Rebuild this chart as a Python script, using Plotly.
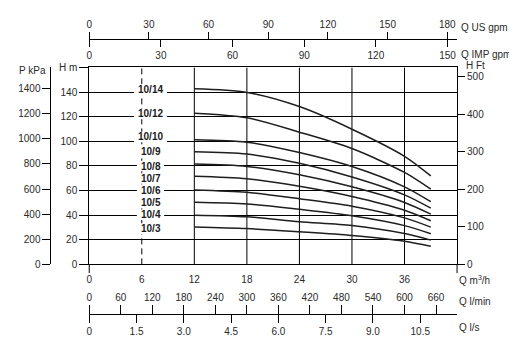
import plotly.graph_objects as go

# page offset of the figure inside the browser window (default body margin)
OFF = 8
W, H = 517 - OFF, 361 - OFF

# ---------------- data ----------------
models = ["10/14", "10/12", "10/10", "10/9", "10/8", "10/7", "10/6", "10/5", "10/4", "10/3"]
flow = [12, 18, 24, 30, 36, 39]  # m3/h
head_10_14 = [142.6, 139.7, 128.2, 109.8, 87.8, 71.9]
head_10_12 = [122.8, 119.1, 107.4, 94.1, 74.7, 61.1]
head_10_10 = [101.3, 99.3, 90.9, 79.5, 63.0, 50.9]
head_10_9 = [91.5, 89.6, 82.1, 71.0, 56.5, 45.7]
head_10_8 = [81.5, 79.6, 72.8, 63.0, 50.3, 40.8]
head_10_7 = [71.6, 69.6, 63.5, 55.2, 44.0, 35.5]
head_10_6 = [60.4, 58.5, 53.3, 47.3, 37.8, 30.3]
head_10_5 = [50.5, 49.1, 44.7, 39.5, 31.5, 24.9]
head_10_4 = [40.0, 38.7, 34.7, 31.5, 25.0, 19.7]
head_10_3 = [30.4, 29.1, 26.5, 23.5, 18.8, 14.7]
heads = [head_10_14, head_10_12, head_10_10, head_10_9, head_10_8,
         head_10_7, head_10_6, head_10_5, head_10_4, head_10_3]
label_heads = [142.0, 122.2, 103.5, 91.4, 79.9, 69.8, 59.8, 50.2, 40.3, 29.1]
label_flow = 7.0

Q_MAX = 42
H_MAX = 160
q_ticks = [0, 6, 12, 18, 24, 30, 36]
q_grid = [6, 12, 18, 24, 30, 36]
h_ticks = [0, 20, 40, 60, 80, 100, 120, 140, 160]
h_text = ["0", "20", "40", "60", "80", "100", "120", "140", "H m"]
hft_ticks = [0, 100, 200, 300, 400, 500]
p_ticks = [0, 200, 400, 600, 800, 1000, 1200, 1400]
usgpm_ticks = [0, 30, 60, 90, 120, 150, 180]
impgpm_ticks = [0, 30, 60, 90, 120, 150]
lmin_ticks = [0, 60, 120, 180, 240, 300, 360, 420, 480, 540, 600, 660]
ls_ticks = [0, 1.5, 3.0, 4.5, 6.0, 7.5, 9.0, 10.5]
ls_text = ["0", "1.5", "3.0", "4.5", "6.0", "7.5", "9.0", "10.5"]

# unit conversions
M_PER_FT = 0.3048
KPA_PER_M = 9.80665
M3H_PER_USGPM = 0.2271247
M3H_PER_IMPGPM = 0.2727655

# ---------------- layout geometry (window pixels) ----------------
PL, PR, PT, PB = 86.7, 456.7, 63.3, 267.2
TOP_AXIS_Y = 34.0
BOT_AXIS_Y = 318.3
P_AXIS_X = 47.7
PX_PER_Q = (PR - PL) / Q_MAX
PX_PER_H = (PB - PT) / H_MAX

def fx(p):
    return (p - OFF) / W

def fy(p):
    return 1 - (p - OFF) / H

INK = "#1e1e1e"
FONT = "Liberation Sans, Arial, sans-serif"
tfont = dict(family=FONT, size=10, color="#2a2a2a")

fig = go.Figure()

for name, h in zip(models, heads):
    fig.add_trace(go.Scatter(x=flow, y=h, mode="lines", name=name,
                             line=dict(color=INK, width=1.5, shape="spline", smoothing=0.8),
                             hoverinfo="skip", showlegend=False))

# dummy traces to instantiate secondary axes
for xa, ya in [("x2", "y"), ("x3", "y"), ("x4", "y"), ("x5", "y"), ("x", "y2"), ("x", "y3")]:
    fig.add_trace(go.Scatter(x=[None], y=[None], xaxis=xa, yaxis=ya, mode="lines",
                             showlegend=False, hoverinfo="skip"))

dom_x = [fx(PL), fx(PR)]
dom_y = [fy(PB), fy(PT)]

common = dict(showgrid=False, zeroline=False, tickfont=tfont, linecolor="black",
              tickcolor="black", tickwidth=1, linewidth=1, fixedrange=True)

fig.update_layout(
    width=W, height=H,
    margin=dict(l=0, r=0, t=0, b=0),
    paper_bgcolor="white", plot_bgcolor="white",
    showlegend=False, hovermode=False,
    xaxis=dict(domain=dom_x, range=[0, Q_MAX], tickmode="array", tickvals=q_ticks,
               ticks="outside", ticklen=6, tickcolor="rgba(0,0,0,0)",
               showline=True, mirror=True, **{k: v for k, v in common.items() if k not in ("tickcolor",)}),
    yaxis=dict(domain=dom_y, range=[0, H_MAX], tickmode="array", tickvals=h_ticks, ticktext=h_text,
               ticks="outside", ticklen=9, showline=True, mirror=True,
               **{k: v for k, v in common.items() if k != "showgrid"},
               showgrid=True, gridcolor="black", gridwidth=1),
    yaxis2=dict(overlaying="y", side="right", anchor="x", range=[0, H_MAX / M_PER_FT],
                tickmode="array", tickvals=hft_ticks, ticks="outside", ticklen=7,
                showline=True, **common),
    yaxis3=dict(overlaying="y", side="left", anchor="free", position=fx(P_AXIS_X),
                range=[0, H_MAX * KPA_PER_M], tickmode="array", tickvals=p_ticks,
                ticks="outside", ticklen=8, showline=True, **common),
    xaxis2=dict(overlaying="x", side="top", anchor="free", position=fy(TOP_AXIS_Y),
                range=[0, Q_MAX / M3H_PER_USGPM], tickmode="array", tickvals=usgpm_ticks,
                ticks="outside", ticklen=7, showline=True, **common),
    xaxis3=dict(overlaying="x", side="bottom", anchor="free", position=fy(TOP_AXIS_Y),
                range=[0, Q_MAX / M3H_PER_IMPGPM], tickmode="array", tickvals=impgpm_ticks,
                ticks="outside", ticklen=7, showline=True, **common),
    xaxis4=dict(overlaying="x", side="top", anchor="free", position=fy(BOT_AXIS_Y),
                range=[0, Q_MAX * 1000 / 60], tickmode="array", tickvals=lmin_ticks,
                ticks="outside", ticklen=9, showline=True, **common),
    xaxis5=dict(overlaying="x", side="bottom", anchor="free", position=fy(BOT_AXIS_Y),
                range=[0, Q_MAX / 3.6], tickmode="array", tickvals=ls_ticks, ticktext=ls_text,
                ticks="outside", ticklen=8, showline=True, **common),
)

# vertical grid lines
for q in q_grid:
    fig.add_shape(type="line", xref="x", yref="y", x0=q, x1=q, y0=0, y1=H_MAX,
                  line=dict(color="black", width=1, dash="6px,4px" if q == 6 else "solid"),
                  layer="below")

# border extensions below the Q axis
for px in (PL, PR):
    fig.add_shape(type="line", xref="paper", yref="paper", x0=fx(px), x1=fx(px),
                  y0=fy(PB), y1=fy(PB + 9), line=dict(color="black", width=1))

# white knock-out boxes behind the model labels (hide grid lines)
for name, hy in zip(models, label_heads):
    half_w = (len(name) * 2.8 + 2.5) / PX_PER_Q
    half_h = 5.5 / PX_PER_H
    fig.add_shape(type="rect", xref="x", yref="y",
                  x0=label_flow - half_w, x1=label_flow + half_w,
                  y0=hy - half_h, y1=hy + half_h,
                  fillcolor="white", line=dict(width=0), layer="above")

# model labels
lab_font = dict(family=FONT, size=10, color="#1a1a1a", weight="bold")
for name, hy in zip(models, label_heads):
    fig.add_annotation(x=label_flow, y=hy, xref="x", yref="y", text=name, showarrow=False,
                       borderpad=0, font=lab_font)

# unit titles
titles = [
    ("P kPa", 14, 66.5, "left"),
    ("H Ft", 464, 61, "left"),
    ("Q US gpm", 459, 22, "left"),
    ("Q IMP gpm", 459, 50, "left"),
    ("Q m<sup>3</sup>/h", 457, 283, "left"),
    ("Q l/min", 457, 306, "left"),
    ("Q l/s", 457, 333, "left"),
]
for txt, px, py, anc in titles:
    fig.add_annotation(x=fx(px), y=fy(py), xref="paper", yref="paper", text=txt,
                       showarrow=False, xanchor=anc, yanchor="middle", font=tfont)

fig.write_html("out.html")
